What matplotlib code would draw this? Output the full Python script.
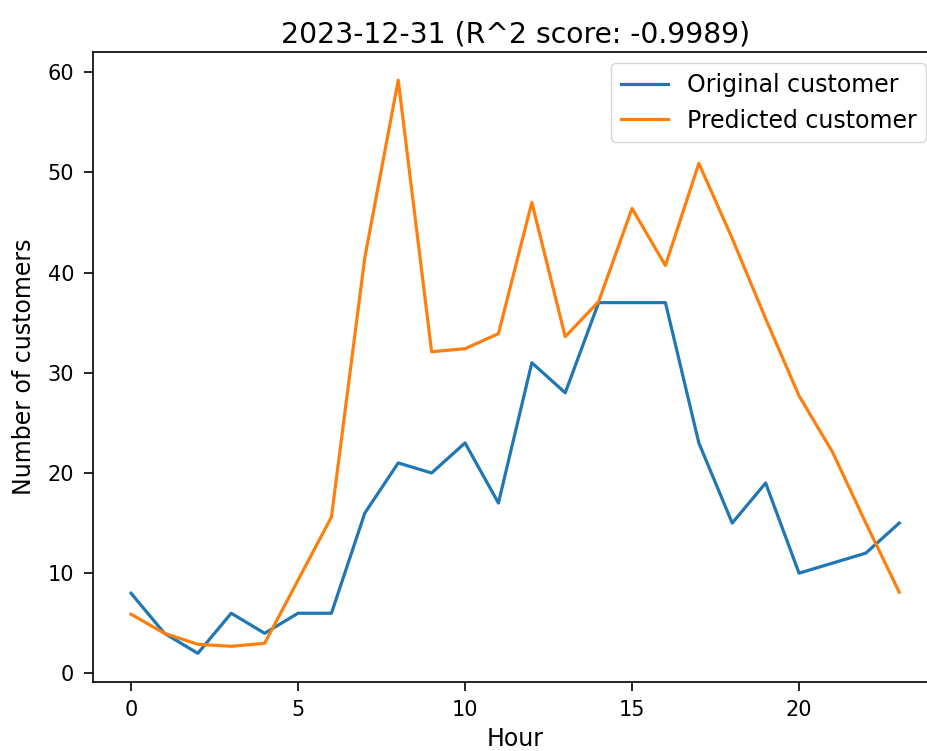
import numpy as np
import matplotlib
matplotlib.use("Agg")
import matplotlib.pyplot as plt

# 每小时客流：真实值与预测值
hours = list(range(24))
original = [8, 4, 2, 6, 4, 6, 6, 16, 21, 20, 23, 17, 31, 28, 37, 37, 37, 23, 15, 19, 10, 11, 12, 15]
predicted = [5.9, 4.0, 2.9, 2.7, 3.0, 9.3, 15.6, 41.5, 59.2, 32.1, 32.4, 33.9, 47.0, 33.6,
             37.1, 46.4, 40.7, 50.9, 43.4, 35.4, 27.7, 22.1, 15.0, 8.1]
date_str = '2023-12-31'
r2 = -0.9989

plt.rcParams['font.size'] = 17
plt.rcParams['axes.linewidth'] = 1.2
plt.rcParams['xtick.labelsize'] = 15
plt.rcParams['ytick.labelsize'] = 15
plt.rcParams['xtick.major.size'] = 6.3
plt.rcParams['ytick.major.size'] = 6.3
plt.rcParams['xtick.major.width'] = 1.2
plt.rcParams['ytick.major.width'] = 1.2
plt.rcParams['xtick.major.pad'] = 7
plt.rcParams['ytick.major.pad'] = 7

fig = plt.figure(figsize=(9.28, 7.51), dpi=100)
ax = fig.add_axes([0.0998, 0.0919, 0.9106, 0.8395])

ax.plot(hours, original, label='Original customer', linewidth=2.3)
ax.plot(hours, predicted, label='Predicted customer', linewidth=2.3)
ax.set_title(f'{date_str} (R^2 score: {r2})', fontsize=20.3, pad=6.5)
ax.set_xlabel('Hour', labelpad=5)
ax.set_ylabel('Number of customers', labelpad=8)
ax.legend(loc='upper right', fontsize=17)

plt.savefig('out.png', dpi=100)
